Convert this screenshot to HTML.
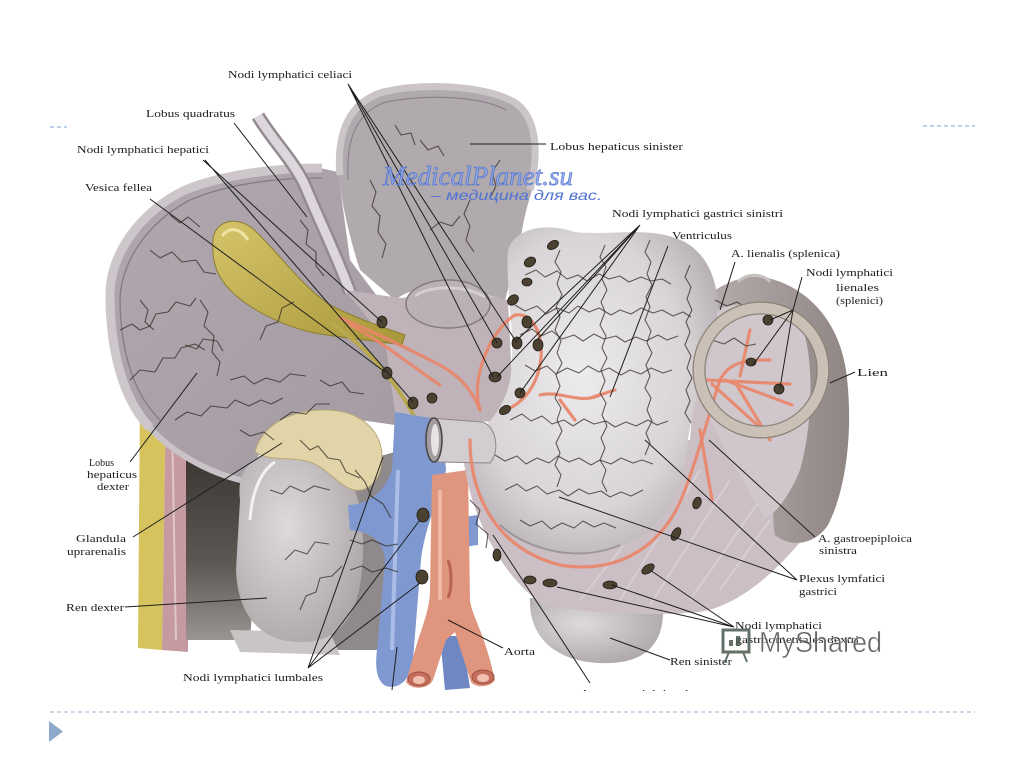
<!DOCTYPE html>
<html><head><meta charset="utf-8"><style>
html,body{margin:0;padding:0;background:#fff;width:1024px;height:767px;overflow:hidden}
svg{display:block}
.l{font-family:"Liberation Serif",serif;font-size:11px;fill:#1c1c1c}
.ld{stroke:#1e1e1e;stroke-width:1;fill:none}
.v{fill:none;stroke:#2e261f;stroke-width:1.1;stroke-opacity:.72;stroke-linejoin:round}
.a{fill:none;stroke:#e8866a;stroke-width:3.2;stroke-linecap:round;stroke-opacity:.92}
.n{fill:#4a4131;stroke:#231d14;stroke-width:.8}
</style></head><body>
<svg width="1024" height="767" viewBox="0 0 1024 767" xmlns="http://www.w3.org/2000/svg">
<defs>
<linearGradient id="shd" x1="0" y1="0" x2="0" y2="1"><stop offset="0" stop-color="#3b3532"/><stop offset=".6" stop-color="#5e5854"/><stop offset="1" stop-color="#9a9592"/></linearGradient>
<radialGradient id="stg" cx="0.45" cy="0.45" r="0.6"><stop offset="0" stop-color="#ecebed"/><stop offset=".7" stop-color="#d8d4d7"/><stop offset="1" stop-color="#b9b3b7"/></radialGradient>
<radialGradient id="kid" cx="0.4" cy="0.4" r="0.7"><stop offset="0" stop-color="#dedadb"/><stop offset="1" stop-color="#aaa4a5"/></radialGradient>
<linearGradient id="gb" x1="0" y1="0" x2="1" y2="1"><stop offset="0" stop-color="#d6c46a"/><stop offset="1" stop-color="#a8963a"/></linearGradient>
<linearGradient id="liv" x1="0" y1="0" x2="1" y2="1"><stop offset="0" stop-color="#b0a8ae"/><stop offset="1" stop-color="#a39ba1"/></linearGradient>
<linearGradient id="spl" x1="0" y1="0" x2="1" y2="0"><stop offset="0" stop-color="#b8afb0"/><stop offset="1" stop-color="#8f8684"/></linearGradient>
</defs>

<path d="M140,395 L166,395 L162,650 L138,648 Z" fill="#d7c35e"/>
<path d="M166,395 L190,398 L188,652 L162,650 Z" fill="#c59aa0"/>
<path d="M172,420 L176,640" stroke="#e9d9dc" stroke-width="2" opacity=".7"/>
<path d="M186,450 L262,470 L250,640 L186,640 Z" fill="url(#shd)"/>
<path d="M330,470 L402,450 L400,650 L320,650 Z" fill="#8f898b"/>
<path d="M230,630 L330,632 L340,655 L240,652 Z" fill="#c9c5c5"/>

<path d="M110,300 C108,255 140,212 185,190 C225,174 275,168 320,168 L338,172 L350,260 L395,320 L420,400 L395,425 L360,420 C320,410 285,420 262,445 L250,482 C215,476 175,455 150,428 C122,398 111,350 110,300 Z" fill="url(#liv)"/>
<path d="M150,428 C122,398 111,350 110,300 C108,255 140,212 185,190 C225,174 275,168 322,168" fill="none" stroke="#cdc7cc" stroke-width="9"/>
<path d="M160,420 C132,392 121,350 120,302 C120,262 148,222 190,200 C228,184 275,178 322,178" fill="none" stroke="#857c82" stroke-width="1.3"/>
<path d="M150,428 C175,455 215,476 250,482" fill="none" stroke="#c9c3c8" stroke-width="6"/>
<path d="M258,116 C272,140 295,162 306,188 C320,222 336,254 350,292" fill="none" stroke="#948b90" stroke-width="14"/>
<path d="M258,116 C272,140 295,162 306,188 C320,222 336,254 350,292" fill="none" stroke="#ddd6dc" stroke-width="9"/>
<path d="M338,172 C334,130 348,100 382,90 C425,80 485,84 515,100 C538,114 542,150 532,190 C526,210 522,225 520,245 L505,300 L470,290 C440,282 410,288 395,300 L360,270 C350,240 342,205 338,172 Z" fill="#b0a9ae"/>
<path d="M340,175 C336,132 350,102 383,92 C426,82 485,86 514,102 C536,116 540,150 530,190" fill="none" stroke="#cbc5c9" stroke-width="7"/>
<path d="M348,180 C346,140 356,112 386,102 C428,94 480,96 506,110" fill="none" stroke="#8b8388" stroke-width="1.2"/>
<path d="M345,290 L400,298 L470,292 L508,300 L512,380 L497,422 L440,420 L395,412 L385,340 Z" fill="#bfb3b9"/>
<ellipse cx="448" cy="304" rx="42" ry="24" fill="#b9b1b6" stroke="#857c81" stroke-width="1.5"/>
<path d="M415,296 C430,285 465,285 485,297" fill="none" stroke="#d4ced2" stroke-width="3"/>
<path d="M213,240 C214,222 235,215 252,228 C275,248 300,285 330,305 C355,318 385,328 405,335 L402,345 C370,340 340,338 310,332 C270,322 235,300 222,280 C214,268 212,255 213,240 Z" fill="url(#gb)" stroke="#8d7d30" stroke-width="1"/>
<path d="M222,236 C230,226 240,228 248,240" fill="none" stroke="#f0e3a6" stroke-width="3"/>
<path d="M330,322 C370,350 395,380 415,418" fill="none" stroke="#b8a850" stroke-width="4"/>

<path d="M240,500 C235,460 265,448 300,450 C340,452 362,480 363,540 C364,600 350,640 305,642 C265,644 238,620 236,570 Z" fill="url(#kid)"/>
<path d="M250,520 C252,490 262,470 275,462" fill="none" stroke="#f2f0f1" stroke-width="3"/>
<path d="M255,452 C262,425 290,410 325,410 C360,410 383,430 382,460 C381,480 368,492 355,490 C340,488 330,470 310,462 C290,456 270,462 255,452 Z" fill="#e0d4a8" stroke="#b8a77a" stroke-width="1"/>

<path d="M395,412 L442,420 L446,470 C440,500 426,520 421,560 L413,660 C411,680 398,690 386,686 C376,681 375,666 377,650 L385,560 C383,540 370,532 350,530 L348,505 C370,505 385,490 392,470 Z" fill="#7f98cf"/>
<path d="M398,470 L392,650" stroke="#a9bde6" stroke-width="4" fill="none"/>
<path d="M440,636 L462,636 L470,688 L445,690 Z" fill="#6f88c4"/>
<path d="M455,518 L478,515 L478,545 L455,548 Z" fill="#7f98cf"/>
<path d="M432,475 L468,470 L470,600 C472,615 480,625 490,660 L495,680 C490,688 475,688 471,682 L455,632 L446,640 L433,680 C428,690 411,690 406,682 L418,640 C425,620 430,605 430,590 Z" fill="#e0957f"/>
<path d="M440,490 L440,600" stroke="#f0b8a6" stroke-width="4"/>
<ellipse cx="419" cy="679" rx="11" ry="7" fill="#c56e5c" stroke="#9c5040"/>
<ellipse cx="419" cy="680" rx="6" ry="4" fill="#f0c0b0"/>
<ellipse cx="483" cy="677" rx="11" ry="7" fill="#c56e5c" stroke="#9c5040"/>
<ellipse cx="483" cy="678" rx="6" ry="4" fill="#f0c0b0"/>
<path d="M448,560 C452,570 452,590 448,598" stroke="#b86450" stroke-width="3" fill="none"/>

<path d="M530,598 C528,640 560,665 610,663 C648,662 668,640 662,598 Z" fill="url(#kid)"/>
<path d="M463,455 C470,520 505,580 545,606 C600,614 660,616 700,612 C740,605 775,572 802,540 L790,520 C772,500 762,470 765,440 L740,330 L700,300 L690,440 Z" fill="#cbbfc5"/>
<path d="M620,600 L700,470 M650,605 L730,480 M690,600 L760,500 M580,600 L660,500 M720,590 L770,520" stroke="#e4dde2" stroke-width="2" opacity=".5"/>
<path d="M695,305 C715,288 740,272 768,278 C805,287 838,318 846,370 C854,430 846,490 828,525 C815,545 790,548 775,535 C770,510 780,480 760,450 C745,420 720,400 700,380 Z" fill="url(#spl)"/>
<path d="M700,318 C730,298 772,300 800,322 C814,352 814,420 800,470 C790,495 775,515 765,518 C742,480 718,440 702,400 Z" fill="#d0c7cc"/>
<path d="M738,282 C748,272 764,274 770,282" fill="none" stroke="#c9c1c0" stroke-width="3"/>
<path d="M508,250 C515,228 545,222 575,232 C615,236 650,225 685,242 C712,258 722,290 716,330 C708,370 693,400 688,440 C683,490 668,525 625,545 C580,562 530,552 500,525 C478,505 472,478 478,458 L470,440 C490,425 505,405 510,380 C517,340 505,290 508,250 Z" fill="url(#stg)"/>
<path d="M620,545 C580,562 530,552 500,525" fill="none" stroke="#9c959a" stroke-width="2"/>
<path d="M430,418 L482,422 C497,426 500,452 490,463 L438,462 Z" fill="#d2cdd1" stroke="#8d868b" stroke-width="1"/>
<ellipse cx="434" cy="440" rx="8" ry="22" fill="#a39ca1" stroke="#4a4447" stroke-width="1.5"/>
<ellipse cx="435" cy="440" rx="4" ry="16" fill="#e6e2e5"/>

<path class="a" d="M340,318 C370,330 400,345 430,360 C455,372 470,385 480,410"/>
<path class="a" d="M480,410 C470,380 490,330 515,315 C535,312 545,340 540,365 C535,390 520,405 505,410"/>
<path class="a" d="M470,440 C470,500 500,550 560,565 C620,575 665,545 685,490 C700,450 710,410 720,380 C730,360 750,360 770,360"/>
<path class="a" d="M540,395 C560,390 580,405 600,395 M560,400 L575,420 M590,398 L615,390"/>
<path class="a" d="M705,380 L790,384 M712,384 L765,432 M725,380 L792,405 M740,376 L750,330 M735,382 L770,440 M700,430 L712,500"/>
<path class="a" d="M350,325 C380,340 410,365 440,385" stroke-width="2"/>

<g class="v">
<path d="M120,330 l12,-6 l8,6 l10,-4 l6,-12 l12,-2 l8,-10 l14,4 l6,-8"/>
<path d="M130,380 l10,-10 l15,2 l8,-14 l12,0 l6,-10 l14,-4 l10,6"/>
<path d="M150,250 l10,8 l12,-6 l10,10 l14,-2 l8,12 l12,2"/>
<path d="M175,420 l12,-8 l14,4 l10,-10 l16,2 l8,-8 l14,6 l12,-6 l10,4 l12,-6"/>
<path d="M200,300 l8,12 l-4,14 l10,10 l-2,16 l8,10 l-3,14"/>
<path d="M230,380 l14,-4 l10,8 l12,-6 l14,4 l10,-8 l16,2"/>
<path d="M260,340 l6,-14 l12,-4 l4,-14 l12,-6"/>
<path d="M280,420 l12,-8 l14,2 l10,-10 l14,0"/>
<path d="M300,220 l8,10 l-2,14 l10,8 l0,14 l8,10"/>
<path d="M170,215 l10,8 l8,-6 l12,10"/>
<path d="M320,380 l10,6 l12,-4 l8,10 l14,2"/>
<path d="M240,430 l10,6 l14,-4 l10,8"/>
<path d="M140,300 l8,10 l-3,12 l9,8"/>
<path d="M185,345 l12,4 l6,-10 l14,2 l6,10"/>
<path d="M370,180 l6,12 l-4,14 l8,10 l-2,16 l8,12 l-4,14"/>
<path d="M420,140 l8,10 l10,-4 l6,10"/>
<path d="M470,200 l-6,14 l6,12 l-4,14 l8,12"/>
<path d="M500,160 l-8,12 l4,14 l-6,12"/>
<path d="M430,230 l10,-8 l12,4 l8,-10"/>
<path d="M395,125 l6,10 l10,-2 l4,12"/>
<path d="M525,275 l11,-5 l9,7 l12,-6 l10,8 l11,-4 l9,6 l12,-7 l10,5 l11,-3 l9,6 l12,-5 l10,4 l11,-2 l9,5"/>
<path d="M515,305 l10,6 l12,-5 l9,8 l11,-6 l12,5 l9,-7 l11,6 l10,-4 l12,7 l9,-5 l11,4 l10,-6 l12,5 l9,-3 l11,6 l10,-4 l8,5"/>
<path d="M520,335 l12,-6 l9,7 l11,-5 l10,8 l12,-4 l9,6 l11,-7 l10,5 l12,-3 l9,6 l11,-5 l10,4 l12,-6 l9,5 l11,-4"/>
<path d="M525,365 l10,6 l12,-5 l9,8 l11,-6 l12,5 l9,-7 l11,6 l10,-4 l12,7 l9,-5 l11,4 l10,-6 l12,5 l9,-3"/>
<path d="M510,420 l12,-6 l9,7 l11,-5 l10,8 l12,-4 l9,6 l11,-7 l10,5 l12,-3 l9,6 l11,-5 l10,4 l12,-6 l9,5 l11,-4"/>
<path d="M495,455 l10,6 l12,-5 l9,8 l11,-6 l12,5 l9,-7 l11,6 l10,-4 l12,7 l9,-5 l11,4 l10,-6 l12,5 l9,-3 l11,4"/>
<path d="M505,490 l12,-6 l9,7 l11,-5 l10,8 l12,-4 l9,6 l11,-7 l10,5 l12,-3 l9,6 l11,-5 l10,4 l12,-6"/>
<path d="M520,520 l10,6 l12,-5 l9,8 l11,-6 l12,5 l9,-7 l11,6 l10,-4 l12,5"/>
<path d="M560,250 l-5,12 l6,10 l-4,12 l5,11 l-6,12 l4,10 l-5,13 l6,11 l-4,12 l5,10 l-6,12 l4,11 l-5,12 l6,10 l-4,12 l5,11 l-6,12 l4,10 l-5,12 l6,10 l-4,12"/>
<path d="M605,245 l-5,12 l6,10 l-4,12 l5,11 l-6,12 l4,10 l-5,13 l6,11 l-4,12 l5,10 l-6,12 l4,11 l-5,12 l6,10 l-4,12 l5,11 l-6,12 l4,10 l-5,12 l6,10 l-4,12 l5,10"/>
<path d="M650,240 l-5,12 l6,10 l-4,12 l5,11 l-6,12 l4,10 l-5,13 l6,11 l-4,12 l5,10 l-6,12 l4,11 l-5,12 l6,10 l-4,12 l5,11 l-6,12 l4,10 l-5,12"/>
<path d="M690,265 l-5,12 l6,10 l-4,12 l5,11 l-6,12 l4,10 l-5,13 l6,11 l-4,12 l5,10 l-6,12 l4,11 l-5,12 l6,10"/>
<path d="M715,300 l12,6 l10,-4 l12,8 l10,-2 l12,6"/>
<path d="M712,340 l12,4 l10,-6 l12,8 l10,-2"/>
<path d="M270,490 l12,4 l8,-8 l14,6 l10,-6 l16,4"/>
<path d="M285,560 l10,-10 l12,4 l8,-12 l14,2"/>
<path d="M300,610 l6,-14 l10,-4 l4,-14 l12,-2 l10,-10"/>
<path d="M300,440 l10,10 l8,-4 l10,12 l12,2 l6,12 l14,6"/>
<path d="M355,470 l10,12 l6,14 l12,8 l8,14"/>
<path d="M350,540 l12,4 l10,-4 l14,6 l12,-2"/>
<path d="M350,570 l12,-4 l10,6 l14,-4 l12,4"/>
<path d="M470,500 l10,10 l-4,14 l12,10 l-2,14"/>
</g>

<g class="n">
<ellipse cx="553" cy="245" rx="6" ry="4" transform="rotate(-30 553 245)"/>
<ellipse cx="530" cy="262" rx="6" ry="4.5" transform="rotate(-30 530 262)"/>
<ellipse cx="527" cy="282" rx="5" ry="4"/>
<ellipse cx="513" cy="300" rx="6" ry="4.5" transform="rotate(-40 513 300)"/>
<ellipse cx="527" cy="322" rx="5" ry="6"/>
<ellipse cx="517" cy="343" rx="5" ry="6"/>
<ellipse cx="538" cy="345" rx="5" ry="6"/>
<ellipse cx="497" cy="343" rx="5" ry="5"/>
<ellipse cx="495" cy="377" rx="6" ry="5"/>
<ellipse cx="520" cy="393" rx="5" ry="5"/>
<ellipse cx="505" cy="410" rx="6" ry="4" transform="rotate(-30 505 410)"/>
<ellipse cx="382" cy="322" rx="5" ry="6"/>
<ellipse cx="387" cy="373" rx="5" ry="6"/>
<ellipse cx="413" cy="403" rx="5" ry="6"/>
<ellipse cx="432" cy="398" rx="5" ry="5"/>
<ellipse cx="768" cy="320" rx="5" ry="5"/>
<ellipse cx="751" cy="362" rx="5" ry="4"/>
<ellipse cx="779" cy="389" rx="5" ry="5"/>
<ellipse cx="497" cy="555" rx="4" ry="6"/>
<ellipse cx="530" cy="580" rx="6" ry="4"/>
<ellipse cx="550" cy="583" rx="7" ry="4"/>
<ellipse cx="610" cy="585" rx="7" ry="4"/>
<ellipse cx="648" cy="569" rx="7" ry="4" transform="rotate(-35 648 569)"/>
<ellipse cx="676" cy="534" rx="7" ry="4" transform="rotate(-60 676 534)"/>
<ellipse cx="697" cy="503" rx="6" ry="4" transform="rotate(-70 697 503)"/>
<ellipse cx="423" cy="515" rx="6" ry="7"/>
<ellipse cx="422" cy="577" rx="6" ry="7"/>
</g>

<circle cx="761" cy="370" r="62" fill="none" stroke="#8c8279" stroke-width="13"/>
<circle cx="761" cy="370" r="62" fill="none" stroke="#cbc0b5" stroke-width="10.5"/>

<g class="ld">
<path d="M348,84 L497,343 M348,84 L517,343 M348,84 L493,377"/>
<path d="M234,123 L307,217"/>
<path d="M203,160 L382,322 M205,160 L413,402"/>
<path d="M150,199 L385,372"/>
<path d="M470,144 L546,144"/>
<path d="M640,225 L517,340 M640,225 L537,340 M640,225 L497,377 M640,225 L520,393"/>
<path d="M668,246 L610,397"/>
<path d="M735,262 L720,310"/>
<path d="M802,277 L793,310 L770,320 M793,310 L753,365 M793,310 L780,388"/>
<path d="M855,372 L830,383"/>
<path d="M130,462 L197,373"/>
<path d="M133,537 L282,443"/>
<path d="M125,607 L267,598"/>
<path d="M308,668 L383,457 M308,668 L420,520 M308,668 L420,583"/>
<path d="M397,647 L392,690"/>
<path d="M503,648 L448,620"/>
<path d="M670,660 L610,638"/>
<path d="M590,683 L493,535"/>
<path d="M815,537 L709,440"/>
<path d="M797,580 L559,497 M797,580 L645,440"/>
<path d="M734,627 L650,570 M734,627 L612,585 M734,627 L557,587"/>
</g>

<g class="l">
<text x="228" y="78" textLength="124" lengthAdjust="spacingAndGlyphs">Nodi lymphatici celiaci</text>
<text x="146" y="117" textLength="89" lengthAdjust="spacingAndGlyphs">Lobus quadratus</text>
<text x="77" y="153" textLength="132" lengthAdjust="spacingAndGlyphs">Nodi lymphatici hepatici</text>
<text x="85" y="191" textLength="67" lengthAdjust="spacingAndGlyphs">Vesica fellea</text>
<text x="550" y="150" textLength="133" lengthAdjust="spacingAndGlyphs">Lobus hepaticus sinister</text>
<text x="612" y="217" textLength="171" lengthAdjust="spacingAndGlyphs">Nodi lymphatici gastrici sinistri</text>
<text x="672" y="239" textLength="60" lengthAdjust="spacingAndGlyphs">Ventriculus</text>
<text x="731" y="257" textLength="109" lengthAdjust="spacingAndGlyphs">A. lienalis (splenica)</text>
<text x="806" y="276" textLength="87" lengthAdjust="spacingAndGlyphs">Nodi lymphatici</text>
<text x="836" y="291" textLength="43" lengthAdjust="spacingAndGlyphs">lienales</text>
<text x="836" y="304" textLength="47" lengthAdjust="spacingAndGlyphs">(splenici)</text>
<text x="857" y="376" textLength="31" lengthAdjust="spacingAndGlyphs">Lien</text>
<text x="89" y="466" textLength="25" lengthAdjust="spacingAndGlyphs">Lobus</text>
<text x="87" y="478" textLength="50" lengthAdjust="spacingAndGlyphs">hepaticus</text>
<text x="97" y="490" textLength="32" lengthAdjust="spacingAndGlyphs">dexter</text>
<text x="76" y="542" textLength="50" lengthAdjust="spacingAndGlyphs">Glandula</text>
<text x="67" y="555" textLength="59" lengthAdjust="spacingAndGlyphs">uprarenalis</text>
<text x="66" y="611" textLength="58" lengthAdjust="spacingAndGlyphs">Ren dexter</text>
<text x="183" y="681" textLength="140" lengthAdjust="spacingAndGlyphs">Nodi lymphatici lumbales</text>
<text x="504" y="655" textLength="31" lengthAdjust="spacingAndGlyphs">Aorta</text>
<text x="670" y="665" textLength="62" lengthAdjust="spacingAndGlyphs">Ren sinister</text>
<text x="818" y="542" textLength="94" lengthAdjust="spacingAndGlyphs">A. gastroepiploica</text>
<text x="819" y="554" textLength="38" lengthAdjust="spacingAndGlyphs">sinistra</text>
<text x="799" y="582" textLength="86" lengthAdjust="spacingAndGlyphs">Plexus lymfatici</text>
<text x="799" y="595" textLength="38" lengthAdjust="spacingAndGlyphs">gastrici</text>
<text x="735" y="629" textLength="87" lengthAdjust="spacingAndGlyphs">Nodi lymphatici</text>
<text x="735" y="643" textLength="124" lengthAdjust="spacingAndGlyphs">gastroomentales dextri</text>
<text x="580" y="697" textLength="135" lengthAdjust="spacingAndGlyphs">A. gastroepiploica dexter</text>
</g>
<rect x="560" y="691" width="200" height="14" fill="#fff"/>

<text x="383" y="185" textLength="190" lengthAdjust="spacingAndGlyphs" style="font-family:'Liberation Serif',serif;font-style:italic;font-size:27px;fill:#8aa5e4;stroke:#4d6fcf;stroke-width:.6;fill-opacity:.85">MedicalPlanet.su</text>
<text x="431" y="200" textLength="171" lengthAdjust="spacingAndGlyphs" style="font-family:'Liberation Sans','Noto Sans CJK SC',sans-serif;font-style:italic;font-size:14px;fill:#4f72d4">– медицина для вас.</text>

<g opacity=".85">
<rect x="723" y="630" width="26" height="22" fill="none" stroke="#4a5a4e" stroke-width="3"/>
<rect x="729" y="640" width="4" height="6" fill="#4a5a4e"/>
<rect x="736" y="636" width="4" height="10" fill="#4a5a4e"/>
<path d="M729,652 L725,662 M743,652 L747,662" stroke="#4a5a4e" stroke-width="2"/>
<text x="759" y="652" textLength="123" lengthAdjust="spacingAndGlyphs" style="font-family:'Liberation Sans',sans-serif;font-size:29px;fill:#4d4d4d;stroke:#fff;stroke-width:.5">MyShared</text>
</g>

<path d="M50,127 L67,127" stroke="#7ea3c9" stroke-width="1" stroke-dasharray="4,3"/>
<path d="M923,126 L975,126" stroke="#7ea3c9" stroke-width="1" stroke-dasharray="4,3"/>
<path d="M50,712 L975,712" stroke="#8fb0d0" stroke-width="1" stroke-dasharray="4,3"/>
<path d="M49,721 L63,731.5 L49,742 Z" fill="#8eaacb"/>
</svg>
</body></html>
